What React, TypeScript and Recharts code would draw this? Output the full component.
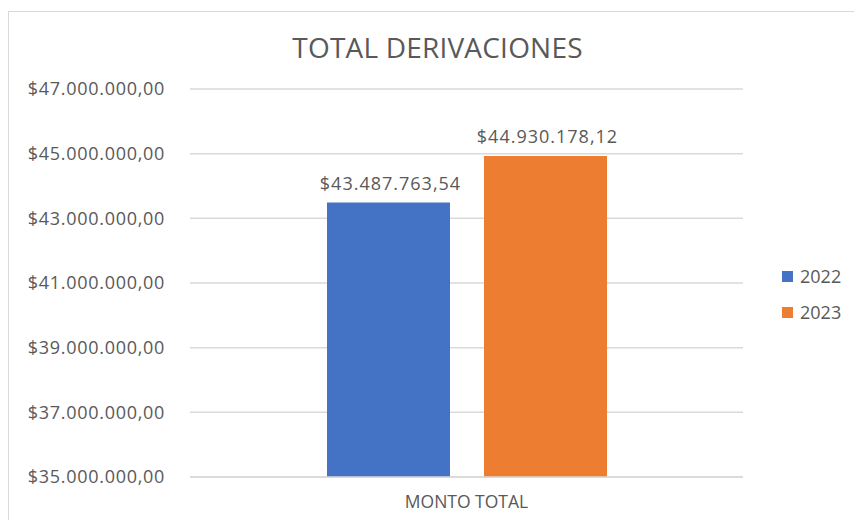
import { BarChart, Bar, XAxis, YAxis, CartesianGrid, Legend, LabelList } from "recharts"

const categories = ["MONTO TOTAL"]
const years = ["2022", "2023"]
const values2022 = [43487763.54]
const values2023 = [44930178.12]
const yTicks = [35000000, 37000000, 39000000, 41000000, 43000000, 45000000, 47000000]

const colors: Record<string, string> = { "2022": "#4472C4", "2023": "#ED7D31" }

const data = categories.map((name, i) => ({
  name,
  "2022": values2022[i],
  "2023": values2023[i],
}))

const FONT = "'Open Sans', sans-serif"
const TEXT = "#595959"

function money(v: number) {
  const [int, dec] = v.toFixed(2).split(".")
  return "$" + int.replace(/\B(?=(\d{3})+(?!\d))/g, ".") + "," + dec
}

function LegendBox(props: any) {
  const items = props.payload || []
  return (
    <div style={{ fontFamily: FONT, fontSize: 18, color: TEXT }}>
      {items.map((it: any) => (
        <div key={it.value} style={{ display: "flex", alignItems: "center", height: 36 }}>
          <span style={{ width: 11, height: 11, background: it.color, marginRight: 7, display: "inline-block" }} />
          {it.value}
        </div>
      ))}
    </div>
  )
}

export default function App() {
  return (
    <div
      style={{
        position: "fixed",
        left: 8,
        top: 11,
        width: 846,
        height: 509,
        borderTop: "1px solid #d9d9d9",
        borderLeft: "1px solid #d9d9d9",
        background: "#fff",
        boxSizing: "border-box",
      }}
    >
      <div
        style={{
          position: "absolute",
          left: 0,
          top: 17,
          width: 857,
          textAlign: "center",
          fontFamily: FONT,
          fontSize: 28,
          letterSpacing: 0.2,
          color: TEXT,
          lineHeight: "36px",
        }}
      >
        TOTAL DERIVACIONES
      </div>
      <BarChart
        width={845}
        height={508}
        data={data}
        margin={{ top: 77, right: 111, bottom: 0, left: 0 }}
        barSize={123}
        barGap={34}
      >
        <CartesianGrid vertical={false} stroke="#d9d9d9" strokeWidth={1.5} />
        <XAxis
          dataKey="name"
          height={43}
          tickSize={0}
          tickMargin={19}
          axisLine={{ stroke: "#d9d9d9", strokeWidth: 1.5 }}
          tick={{ fill: TEXT, fontSize: 17.5, fontFamily: FONT }}
        />
        <YAxis
          width={181}
          domain={[35000000, 47000000]}
          ticks={yTicks}
          allowDataOverflow
          axisLine={false}
          tickLine={false}
          tickSize={0}
          tickMargin={25}
          tickFormatter={money}
          tick={{ fill: TEXT, fontSize: 18, fontFamily: FONT, letterSpacing: 0.7 }}
        />
        <Legend
          layout="vertical"
          align="center"
          verticalAlign="middle"
          content={LegendBox}
          wrapperStyle={{ left: 773, top: 246, width: 70 }}
        />
        {years.map((y) => (
          <Bar key={y} dataKey={y} fill={colors[y]} isAnimationActive={false}>
            <LabelList
              dataKey={y}
              position="top"
              offset={13}
              dx={2}
              formatter={(v: any) => money(Number(v))}
              style={{ fill: TEXT, fontSize: 18, fontFamily: FONT, letterSpacing: 1 }}
            />
          </Bar>
        ))}
      </BarChart>
    </div>
  )
}
